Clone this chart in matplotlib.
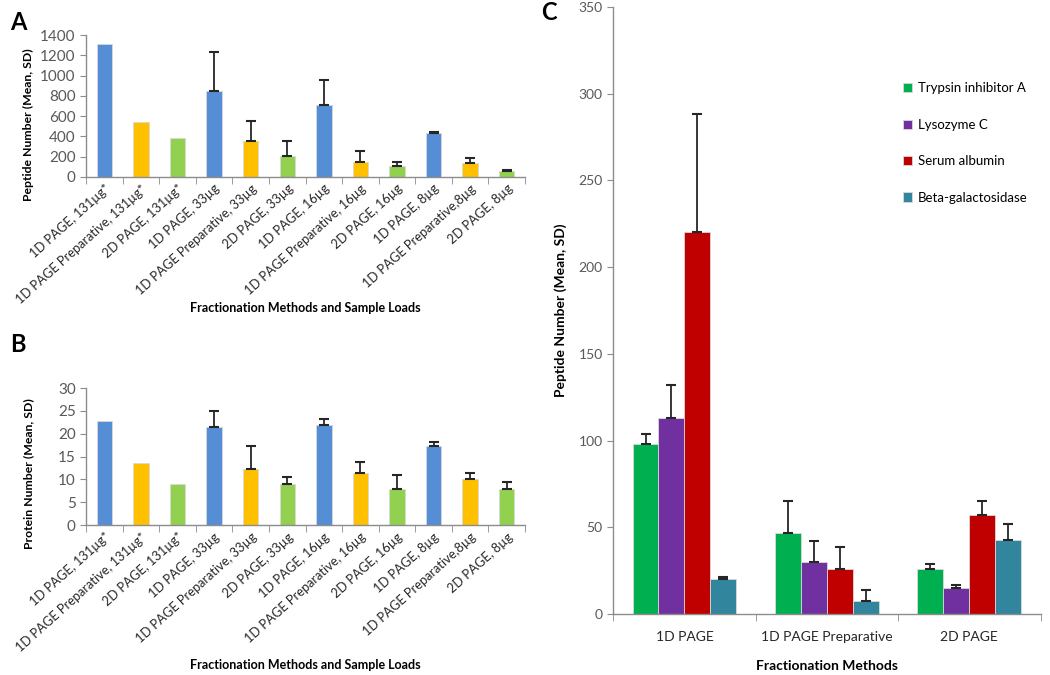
import numpy as np
import matplotlib
matplotlib.use('Agg')
import matplotlib.pyplot as plt
from matplotlib.ticker import MultipleLocator, FixedLocator

plt.rcParams['font.family'] = ['Lato', 'DejaVu Sans']

# Panels A and B: fractionation method / sample load
loads = ['1D PAGE, 131\u00b5g*', '1D PAGE Preparative, 131\u00b5g*', '2D PAGE, 131\u00b5g*',
         '1D PAGE, 33\u00b5g', '1D PAGE Preparative, 33\u00b5g', '2D PAGE, 33\u00b5g',
         '1D PAGE, 16\u00b5g', '1D PAGE Preparative, 16\u00b5g', '2D PAGE, 16\u00b5g',
         '1D PAGE, 8\u00b5g', '1D PAGE Preparative,8\u00b5g', '2D PAGE, 8\u00b5g']
peptide_mean = [1310, 540, 385, 850, 350, 210, 710, 150, 110, 430, 140, 60]
peptide_sd = [0, 0, 0, 385, 205, 140, 250, 105, 40, 10, 45, 5]
protein_mean = [22.8, 13.5, 9.0, 21.4, 12.4, 9.0, 21.9, 11.5, 8.0, 17.4, 10.0, 8.0]
protein_sd = [0, 0, 0, 3.5, 5.0, 1.5, 1.4, 2.3, 2.9, 0.8, 1.5, 1.5]
method_colors = ['#558ED5', '#FFC000', '#92D050'] * 4

# Panel C: peptides per protein
methods = ['1D PAGE', '1D PAGE Preparative', '2D PAGE']
proteins = ['Trypsin inhibitor A', 'Lysozyme C', 'Serum albumin', 'Beta-galactosidase']
prot_mean = {
    'Trypsin inhibitor A': [98, 47, 26],
    'Lysozyme C': [113, 30, 15],
    'Serum albumin': [220, 26, 57],
    'Beta-galactosidase': [20.5, 7.5, 43],
}
prot_sd = {
    'Trypsin inhibitor A': [6, 18, 3],
    'Lysozyme C': [19, 12, 2],
    'Serum albumin': [68, 13, 8],
    'Beta-galactosidase': [1, 6.5, 9],
}
prot_colors = ['#00B050', '#7030A0', '#C00000', '#31859C']

axis_grey = '#8c8c8c'
tick_grey = '#595959'


def style_axes(ax):
    for s in ['top', 'right']:
        ax.spines[s].set_visible(False)
    for s in ['left', 'bottom']:
        ax.spines[s].set_color(axis_grey)
        ax.spines[s].set_linewidth(1.0)
    ax.tick_params(axis='y', colors=axis_grey, labelcolor=tick_grey, length=4, direction='out')
    ax.tick_params(axis='x', which='major', length=0)
    ax.tick_params(axis='x', which='minor', colors=axis_grey, length=5, direction='out')


def up_errors(ax, x, mean, sd):
    # only the upper half of the SD, skipped where no SD was given
    x = np.asarray(x, float)
    mean = np.asarray(mean, float)
    sd = np.asarray(sd, float)
    keep = sd > 0
    ax.errorbar(x[keep], mean[keep], yerr=[np.zeros(keep.sum()), sd[keep]], fmt='none',
                ecolor='#262626', elinewidth=1.3, capsize=3.5, capthick=1.5, zorder=3)


fig = plt.figure(figsize=(10.5, 6.75), dpi=100)

# ---- Panel A and B
def load_panel(rect, mean, sd, ymax, step, ylabel):
    ax = fig.add_axes(rect)
    x = np.arange(len(loads))
    ax.bar(x, mean, width=0.42, color=method_colors, edgecolor='#d9d9d9', linewidth=0.6, zorder=2)
    up_errors(ax, x, mean, sd)
    ax.set_xlim(-0.5, len(loads) - 0.5)
    ax.set_ylim(0, ymax)
    ax.yaxis.set_major_locator(MultipleLocator(step))
    ax.set_xticks(x)
    ax.set_xticklabels(loads, rotation=42, ha='right', rotation_mode='anchor',
                       fontsize=9.3, color='#262626')
    ax.xaxis.set_minor_locator(FixedLocator(np.arange(-0.5, len(loads), 1.0)))
    style_axes(ax)
    ax.tick_params(axis='y', labelsize=11)
    ax.tick_params(axis='x', which='major', pad=4)
    ax.set_ylabel(ylabel, fontsize=8.8, fontweight='bold')
    ax.set_xlabel('Fractionation Methods and Sample Loads', fontsize=9, fontweight='bold')
    return ax

axA = load_panel([0.082, 0.738, 0.418, 0.210], peptide_mean, peptide_sd, 1400, 200,
                 'Peptide Number (Mean, SD)')
axB = load_panel([0.082, 0.222, 0.418, 0.203], protein_mean, protein_sd, 30, 5,
                 'Protein Number (Mean, SD)')
axA.xaxis.set_label_coords(0.5, -0.88)
axB.xaxis.set_label_coords(0.5, -0.98)
axA.yaxis.set_label_coords(-0.118, 0.37)
axB.yaxis.set_label_coords(-0.118, 0.38)

# ---- Panel C
axC = fig.add_axes([0.584, 0.090, 0.407, 0.900])
xg = np.arange(len(methods))
bw = 0.182
for i, p in enumerate(proteins):
    pos = xg + (i - 1.5) * bw
    axC.bar(pos, prot_mean[p], width=bw, color=prot_colors[i], edgecolor='#d9d9d9',
            linewidth=0.6, label=p, zorder=2)
    up_errors(axC, pos, prot_mean[p], prot_sd[p])
axC.set_xlim(-0.5, len(methods) - 0.5)
axC.set_ylim(0, 350)
axC.yaxis.set_major_locator(MultipleLocator(50))
axC.set_xticks(xg)
axC.set_xticklabels(methods, fontsize=10, color='#262626')
axC.xaxis.set_minor_locator(FixedLocator(np.arange(-0.5, len(methods), 1.0)))
style_axes(axC)
axC.tick_params(axis='y', labelsize=10)
axC.tick_params(axis='x', which='major', pad=12)
axC.set_ylabel('Peptide Number (Mean, SD)', fontsize=10, fontweight='bold', labelpad=8)
axC.set_xlabel('Fractionation Methods', fontsize=10, fontweight='bold', labelpad=12)
leg = axC.legend(loc='upper left', bbox_to_anchor=(0.65, 0.895), frameon=False, fontsize=9.5,
                 handlelength=0.7, handleheight=0.7, handletextpad=0.45, labelspacing=1.85)

# panel letters
fig.text(0.010, 0.967, 'A', fontsize=17, fontweight='bold', va='center')
fig.text(0.010, 0.489, 'B', fontsize=17, fontweight='bold', va='center')
fig.text(0.515, 0.982, 'C', fontsize=17, fontweight='bold', va='center')

plt.savefig('out.png', dpi=100)
